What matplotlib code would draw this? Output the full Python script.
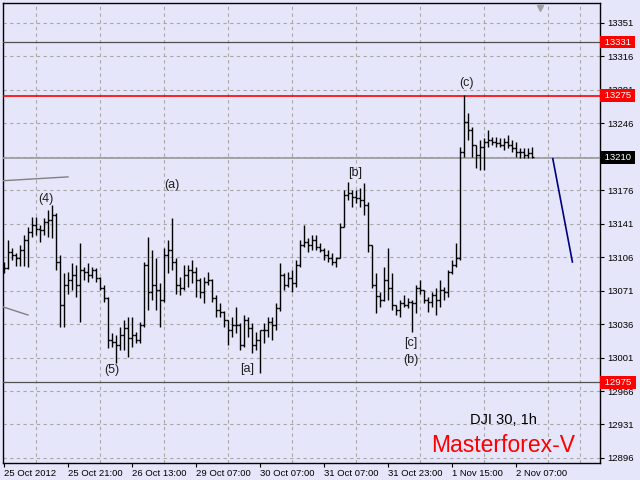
import matplotlib.pyplot as plt
import numpy as np

# DJI 30, 1h bars
highs = [13101,13124,13116,13110,13119,13129,13138,13148,13148,13140,
         13147,13155,13161,13152,13108,13089,13090,13100,13098,13121,
         13096,13100,13096,13095,13085,13077,13064,13027,13025,13033,
         13040,13043,13043,13028,13038,13101,13127,13113,13105,13079,
         13116,13124,13147,13105,13085,13098,13098,13103,13096,13084,
         13085,13090,13083,13066,13058,13050,13040,13043,13054,13037,
         13045,13043,13037,13028,13030,13037,13043,13043,13058,13100,
         13089,13090,13093,13103,13124,13140,13126,13129,13129,13121,
         13116,13113,13110,13106,13142,13176,13185,13176,13176,13178,
         13184,13164,13119,13089,13070,13096,13116,13089,13056,13061,
         13066,13063,13061,13077,13082,13072,13064,13070,13074,13082,
         13075,13093,13103,13121,13221,13276,13257,13242,13223,13229,
         13231,13239,13232,13232,13231,13231,13234,13229,13226,13220,
         13220,13220,13221]
lows = [13089,13094,13103,13097,13097,13097,13096,13127,13129,13122,
        13129,13127,13126,13093,13033,13033,13068,13072,13064,13038,
        13082,13080,13084,13080,13072,13059,13011,13012,12995,13009,
        13009,13002,13012,13016,13016,13033,13051,13061,13051,13033,
        13059,13089,13093,13068,13066,13072,13075,13079,13064,13063,
        13058,13077,13059,13043,13043,13033,13014,13022,13027,13009,
        13012,13022,13006,13009,12985,13016,13022,13019,13030,13050,
        13072,13075,13070,13075,13096,13117,13111,13113,13113,13111,
        13103,13101,13098,13096,13105,13138,13166,13158,13163,13158,
        13150,13111,13074,13048,13054,13060,13061,13051,13045,13043,
        13054,13053,13028,13048,13068,13058,13049,13054,13045,13054,
        13061,13064,13088,13096,13103,13211,13229,13211,13199,13197,
        13197,13221,13223,13221,13221,13218,13220,13216,13211,13210,
        13210,13210,13210]
opens = [13093,13095,13111,13108,13105,13113,13124,13132,13140,13136,
         13134,13143,13145,13150,13101,13056,13077,13082,13087,13077,
         13093,13090,13087,13093,13084,13074,13063,13019,13017,13014,
         13025,13032,13021,13025,13019,13035,13098,13070,13077,13072,
         13061,13108,13113,13101,13077,13074,13087,13093,13090,13082,
         13070,13080,13082,13063,13051,13049,13040,13030,13035,13035,
         13014,13040,13032,13014,13019,13030,13030,13038,13035,13053,
         13087,13077,13084,13079,13098,13119,13122,13119,13124,13117,
         13113,13108,13105,13101,13105,13138,13171,13173,13169,13168,
         13166,13161,13119,13077,13065,13061,13082,13074,13056,13051,
         13058,13056,13059,13058,13074,13072,13061,13059,13066,13061,
         13072,13070,13090,13098,13105,13216,13247,13239,13223,13213,
         13221,13226,13229,13226,13225,13223,13226,13223,13220,13216,
         13216,13213,13215]
closes = [13095,13111,13108,13105,13113,13124,13132,13140,13136,13134,
          13143,13145,13150,13101,13056,13077,13082,13087,13077,13093,
          13090,13087,13093,13084,13074,13063,13019,13017,13014,13025,
          13032,13021,13025,13019,13035,13098,13070,13077,13072,13061,
          13108,13113,13101,13077,13074,13087,13093,13090,13082,13070,
          13080,13082,13063,13051,13049,13040,13030,13035,13035,13014,
          13040,13032,13014,13019,13030,13030,13038,13035,13053,13087,
          13077,13084,13079,13098,13119,13122,13119,13124,13117,13113,
          13108,13105,13101,13105,13138,13171,13173,13169,13168,13166,
          13161,13119,13077,13065,13061,13082,13074,13056,13051,13058,
          13056,13059,13058,13074,13072,13061,13059,13066,13061,13072,
          13070,13090,13098,13105,13216,13247,13239,13223,13213,13221,
          13226,13229,13226,13225,13223,13226,13223,13220,13216,13216,
          13213,13215,13211]

price_ticks = [12896,12931,12966,13001,13036,13071,13106,13141,13176,13211,13246,13281,13316,13351]
# 13211 sits under the current-price box, so it has no visible label
price_labels = ['12896','12931','12966','13001','13036','13071','13106','13141','13176','',
                '13246','13281','13316','13351']
date_pos = [0,16,32,48,64,80,96,112,128]
date_labels = ['25 Oct 2012','25 Oct 21:00','26 Oct 13:00','29 Oct 07:00','30 Oct 07:00',
               '31 Oct 07:00','31 Oct 23:00','1 Nov 15:00','2 Nov 07:00']

# horizontal levels: (price, line colour, label box colour)
levels = [(13331, '#505050', 'red'), (13275, 'red', 'red'),
          (13210, '#9a9a9a', 'black'), (12975, '#505050', 'red')]

# wave labels: text, bar index, price
waves = [('(4)',10.5,13167),('(5)',27,12988),('(a)',42,13182),('[a]',60.75,12989),
         ('[b]',87.75,13194),('[c]',101.75,13016),('(b)',101.75,12998),('(c)',115.75,13288)]

# trend lines drawn on the chart
trend1 = ([-0.25,16],[13186,13190])
trend2 = ([-0.25,6],[13054,13045.5])
forecast = ([137.2,142.1],[13209,13101])

bg = '#E6E6FA'
plt.rcParams['font.family'] = ['Liberation Sans', 'DejaVu Sans']

fig = plt.figure(figsize=(6.4,4.8), dpi=100, facecolor=bg)
ax = fig.add_axes([3/640, 17/480, 597/640, 460/480])
ax.set_facecolor(bg)

x = np.arange(len(highs))
ax.vlines(x, lows, highs, color='black', lw=1, zorder=4)
ax.hlines(opens, x-0.45, x, color='black', lw=1, zorder=4)
ax.hlines(closes, x, x+0.45, color='black', lw=1, zorder=4)

for p, c, bc in levels:
    ax.axhline(p, color=c, lw=1.2 if c != '#505050' else 0.9, zorder=3)
    ax.text(1.003, p, ' %d ' % p, transform=ax.get_yaxis_transform(), color='white',
            fontsize=6.8, va='center', ha='left', zorder=10, clip_on=False,
            bbox=dict(boxstyle='square,pad=0.2', fc=bc, ec='none'))

ax.plot(trend1[0], trend1[1], color='#808080', lw=1, zorder=3)
ax.plot(trend2[0], trend2[1], color='#808080', lw=1, zorder=3)
ax.plot(forecast[0], forecast[1], color='#000080', lw=1.2, zorder=3)

for t, xi, yi in waves:
    ax.text(xi, yi, t, fontsize=9, color='#202020', ha='center', va='center', zorder=5)

ax.text(0.8375, 0.0935, 'DJI 30, 1h', transform=ax.transAxes, fontsize=10.5,
        color='black', ha='center', va='center')
ax.text(0.8375, 0.039, 'Masterforex-V', transform=ax.transAxes, fontsize=16.5,
        color='red', ha='center', va='center')

# chart shift marker
ax.plot([0.9], [0.99], marker='v', color='#a0a0a0', ms=5, transform=ax.transAxes, clip_on=False)

ax.set_xlim(-0.25, 149)
ax.set_ylim(12890.7, 13371.9)

ax.yaxis.tick_right()
ax.set_yticks(price_ticks)
ax.set_yticklabels(price_labels)
ax.tick_params(axis='y', direction='out', length=3, pad=2, labelsize=6.8, colors='black')

ax.set_xticks(date_pos)
ax.set_xticklabels(date_labels, ha='left')
ax.set_xticks(np.arange(8, 148, 8), minor=True)
ax.tick_params(axis='x', which='major', direction='out', length=3, pad=1.5, labelsize=6.8)
ax.tick_params(axis='x', which='minor', length=0)

ax.grid(axis='y', which='major', color='#a8a8a8', ls=(0,(3,3)), lw=0.8)
ax.grid(axis='x', which='minor', color='#a8a8a8', ls=(0,(3,3)), lw=0.8)

for s in ax.spines.values():
    s.set_color('black')
    s.set_linewidth(1)

plt.savefig('out.png', dpi=100, facecolor=bg)
